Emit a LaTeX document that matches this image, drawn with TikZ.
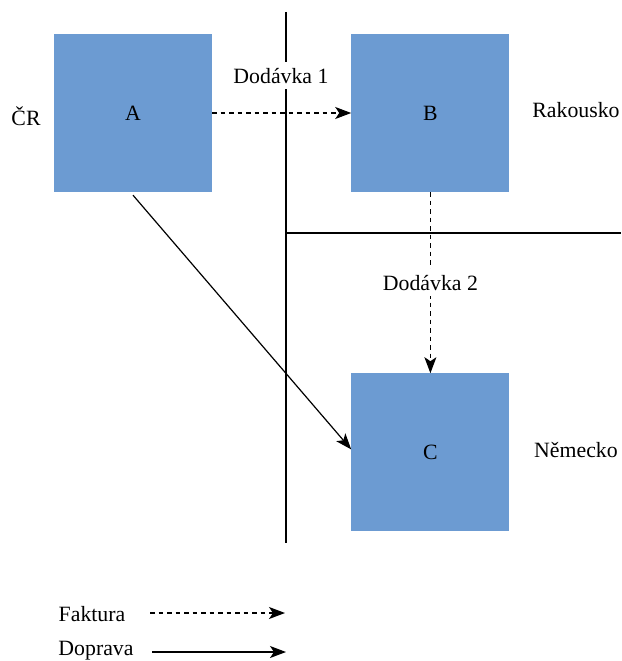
\documentclass[tikz,border=0pt]{standalone}
\usepackage{fontspec}
\setmainfont{Liberation Serif}
\usetikzlibrary{arrows.meta, positioning}
\definecolor{boxblue}{RGB}{108,155,210}
\tikzstyle{country} = [rectangle, fill=boxblue, minimum width=158pt, minimum height=158pt, inner sep=0pt]
\tikzstyle{faktura} = [line width=1.2pt, dash pattern=on 4.5pt off 4pt, -{Stealth[length=16pt,width=12pt,inset=4pt]}]
\tikzstyle{doprava} = [line width=1.2pt, -{Stealth[length=16pt,width=12pt,inset=4pt]}]
\tikzstyle{border} = [line width=1.4pt]
\tikzstyle{tag} = [anchor=base, inner sep=0pt]
\tikzstyle{cutout} = [fill=white, inner sep=6pt]

\begin{document}
\begin{tikzpicture}[x=1pt, y=-1pt, font=\fontsize{21.8}{26}\selectfont]
\useasboundingbox (0,0) rectangle (621,661);
% Placement of country boxes
\node (A) [country] at (133,113) {A};
\node (B) [country, right=139pt of A] {B};
\node (C) [country, below=181pt of B] {C};

% Country names
\node (cr) [tag] at (26,125) {ČR};
\node (rak) [tag] at (576,117) {Rakousko};
\node (nem) [tag] at (576,457) {Německo};

% Borders
\coordinate (top) at (286,12);
\coordinate (bottom) at (286,543);
\coordinate (cross) at (286,233);
\coordinate (east) at (621,233);
\draw [border] (top) -- (bottom);
\draw [border] (cross) -- (east);

% Deliveries and transport
\draw [faktura] (A) -- (B);
\node (d1) [cutout, anchor=base] at (281,83) {Dodávka 1};
\draw [faktura] (B) -- node[cutout] (d2) {Dodávka 2} (C);
\draw [doprava] ([yshift=-3pt]A.south) -- ([yshift=3pt]C.west);

%% Legend
\node (fak) [tag] at (92,621) {Faktura};
\node (dop) [tag] at (96,655) {Doprava};
\coordinate (fakS) at (150,613);
\coordinate (fakE) at (285,613);
\coordinate (dopS) at (152,652);
\coordinate (dopE) at (286,652);
\draw [faktura] (fakS) -- (fakE);
\draw [doprava] (dopS) -- (dopE);

\end{tikzpicture}
\end{document}
